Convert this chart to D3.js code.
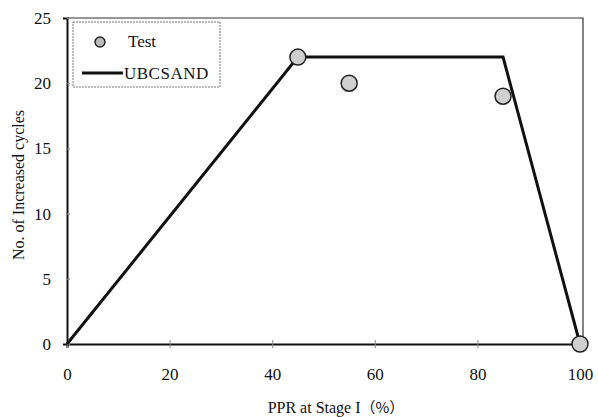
<!DOCTYPE html>
<html>
<head>
<meta charset="utf-8">
<script src="https://cdn.jsdelivr.net/npm/d3@7"></script>
<style>
body{margin:0;background:#fff;}
text{font-family:"Liberation Serif","DejaVu Serif",serif;fill:#111;}
</style>
</head>
<body>
<div id="chart"></div>
<script>
// data
var testX = [45, 55, 85, 100],
	testY = [22, 20, 19, 0],
	modelX = [0, 45, 85, 100],
	modelY = [0, 22, 22, 0],
	xTicks = [0, 20, 40, 60, 80, 100],
	yTicks = [0, 5, 10, 15, 20, 25];

var width = 598, height = 417,
	pLeft = 67, pRight = 580, pTop = 18, pBottom = 344;

var svg = d3.select("#chart").append("svg")
	.attr("width", width)
	.attr("height", height);

var x = d3.scaleLinear().domain([0, 100]).range([pLeft, pRight]),
	y = d3.scaleLinear().domain([0, 25]).range([pBottom, pTop]);

// frame top / right
svg.append("path")
	.attr("d", "M" + pLeft + "," + pTop + "H" + (pRight + 3) + "V" + pBottom)
	.attr("fill", "none")
	.attr("stroke", "#333")
	.attr("stroke-width", 1.2);

// axes
var xAxis = svg.append("g")
	.attr("transform", "translate(0," + pBottom + ")")
	.call(d3.axisBottom(x).tickValues(xTicks).tickSize(4).tickPadding(20));
var yAxis = svg.append("g")
	.attr("transform", "translate(" + pLeft + ",0)")
	.call(d3.axisLeft(y).tickValues(yTicks).tickSize(4).tickPadding(12));

[xAxis, yAxis].forEach(function(a){
	a.select(".domain").attr("stroke", "#111").attr("stroke-width", 2);
	a.selectAll(".tick line").attr("stroke", "#888");
	a.selectAll("text")
		.style("font-family", "'Liberation Serif', serif")
		.style("font-size", "17px")
		.attr("fill", "#111");
});
// small crosses on ticks
xAxis.selectAll(".tick line").attr("y1", -4);
yAxis.selectAll(".tick line").attr("x2", 3);

// model line
var line = d3.line()
	.x(function(d){ return x(d[0]); })
	.y(function(d){ return y(d[1]); });
svg.append("path")
	.datum(d3.zip(modelX, modelY))
	.attr("d", line)
	.attr("fill", "none")
	.attr("stroke", "#111")
	.attr("stroke-width", 3)
	.attr("stroke-linejoin", "miter");

// test points
svg.selectAll(".pt")
	.data(d3.zip(testX, testY))
	.enter()
	.append("circle")
	.attr("class", "pt")
	.attr("cx", function(d){ return x(d[0]); })
	.attr("cy", function(d){ return y(d[1]); })
	.attr("r", 8)
	.attr("fill", "#cfcfcf")
	.attr("stroke", "#222")
	.attr("stroke-width", 1.5);

// legend
var lg = svg.append("g");
lg.append("rect")
	.attr("x", 73).attr("y", 22)
	.attr("width", 147).attr("height", 65)
	.attr("fill", "#fff")
	.attr("stroke", "#777")
	.attr("stroke-width", 1)
	.attr("stroke-dasharray", "2,1");
lg.append("circle")
	.attr("cx", 100).attr("cy", 42).attr("r", 5)
	.attr("fill", "#bbb").attr("stroke", "#222").attr("stroke-width", 1.5);
lg.append("text")
	.attr("x", 128).attr("y", 47)
	.style("font-size", "17px")
	.text("Test");
lg.append("line")
	.attr("x1", 82).attr("x2", 123)
	.attr("y1", 73).attr("y2", 73)
	.attr("stroke", "#111").attr("stroke-width", 3);
lg.append("text")
	.attr("x", 124).attr("y", 79)
	.style("font-size", "17px")
	.style("letter-spacing", "0.5px")
	.text("UBCSAND");

// axis titles
var xt = svg.append("text")
	.attr("x", 336).attr("y", 413)
	.attr("text-anchor", "middle")
	.style("font-size", "16px");
xt.append("tspan").text("PPR at Stage I");
xt.append("tspan").style("font-family", "'Noto Sans CJK JP', sans-serif").style("font-size", "15px").text("（%）");

svg.append("text")
	.attr("transform", "translate(24,185) rotate(-90)")
	.attr("text-anchor", "middle")
	.style("font-size", "16px")
	.text("No. of Increased cycles");
</script>
</body>
</html>
